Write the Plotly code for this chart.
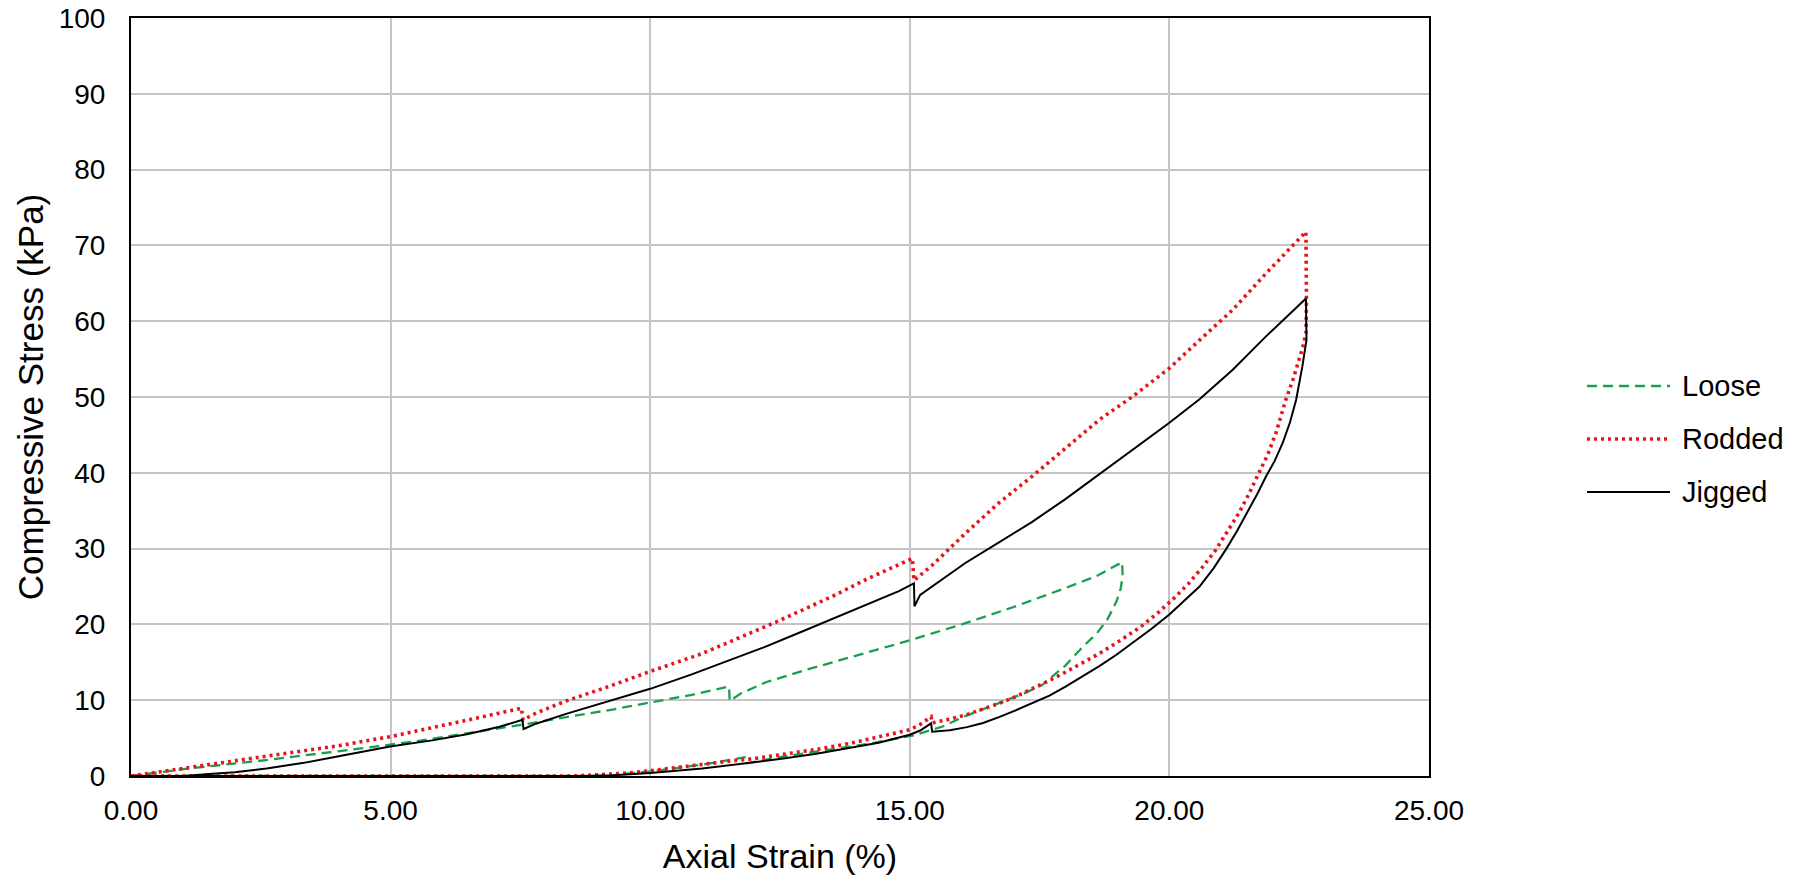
import plotly.graph_objects as go

# ---------------- data ----------------
loose_strain = [0.0, 1.0, 2.61, 3.7, 4.73, 5.6, 6.47, 7.1, 7.56, 8.5, 9.3, 10.0, 10.8, 11.52,
                11.53, 11.75, 12.24, 13.0, 14.0, 15.0, 16.0, 17.0, 18.0, 18.6, 19.09,
                19.10, 19.06, 18.99, 18.9, 18.8, 18.6, 18.34, 18.0, 17.8, 17.55, 17.2, 16.71,
                16.1, 15.62, 15.1, 14.17, 13.5, 12.5, 11.87, 11.86, 11.0, 10.0, 9.2, 8.8, 0.0]
loose_stress = [0.0, 0.9, 2.1, 3.0, 3.9, 4.7, 5.6, 6.3, 6.8, 7.9, 8.8, 9.7, 10.7, 11.8,
                9.9, 10.9, 12.4, 14.0, 15.9, 17.9, 20.0, 22.3, 24.8, 26.4, 28.2,
                26.3, 24.7, 23.2, 21.9, 20.6, 18.8, 17.1, 14.6, 13.4, 12.0, 10.9, 9.6,
                8.0, 6.5, 5.4, 4.2, 3.5, 2.5, 1.7, 2.5, 1.5, 0.6, 0.05, 0.0, 0.0]

rodded_strain = [0.0, 1.0, 2.6, 4.0, 5.0, 6.0, 6.5, 7.1, 7.52, 7.55, 7.8, 8.38, 9.2, 10.0, 10.94,
                 11.5, 12.42, 13.51, 14.15, 14.6, 15.05, 15.08, 15.43, 16.07, 16.71, 17.35, 17.99,
                 18.65, 19.28, 20.0, 20.58, 21.22, 21.86, 22.63,
                 22.64, 22.63, 22.57, 22.5, 22.38, 22.24, 22.05, 21.9, 21.72, 21.53, 21.34, 21.12,
                 20.89, 20.63, 20.37, 20.08, 19.79, 19.47, 19.06, 18.66, 18.3, 18.0, 17.69, 17.37,
                 17.05, 16.73, 16.41, 16.1, 15.77, 15.43, 15.41, 15.2, 15.0, 14.4, 13.85, 13.2,
                 12.6, 12.0, 11.58, 11.0, 10.0, 9.5, 9.0, 8.5, 0.0]
rodded_stress = [0.0, 1.0, 2.55, 4.0, 5.2, 6.6, 7.4, 8.3, 8.95, 7.4, 8.3, 9.9, 11.8, 13.8, 16.0,
                 17.6, 20.3, 23.7, 25.9, 27.3, 28.7, 25.8, 27.8, 32.0, 36.0, 39.5, 43.2,
                 47.0, 50.0, 53.8, 57.5, 61.5, 66.3, 71.8,
                 62.8, 58.4, 56.6, 54.9, 52.3, 49.6, 45.2, 42.5, 39.9, 37.2, 34.7, 32.2,
                 29.8, 27.5, 25.4, 23.4, 21.6, 19.8, 17.9, 16.2, 14.8, 13.7, 12.6, 11.5,
                 10.5, 9.6, 8.8, 8.1, 7.5, 7.0, 7.8, 6.8, 6.1, 5.1, 4.3, 3.5,
                 2.9, 2.3, 2.0, 1.5, 0.7, 0.35, 0.12, 0.0, 0.0]

jigged_strain = [0.0, 1.0, 1.5, 2.0, 2.61, 3.3, 4.0, 4.99, 5.8, 6.47, 7.1, 7.54, 7.56, 7.8, 8.38,
                 9.2, 10.0, 10.8, 11.58, 12.2, 12.87, 13.5, 14.15, 14.79, 15.08, 15.09, 15.2,
                 15.43, 15.75, 16.07, 16.71, 17.35, 17.99, 18.65, 19.28, 20.0, 20.58, 21.22,
                 21.86, 22.63,
                 22.64, 22.6, 22.56, 22.5, 22.44, 22.32, 22.18, 22.03, 21.86, 21.7, 21.53, 21.3,
                 21.08, 20.85, 20.58, 20.3, 20.0, 19.65, 19.3, 18.98, 18.65, 18.3, 18.0, 17.69,
                 17.37, 17.05, 16.73, 16.41, 16.1, 15.77, 15.43, 15.41, 15.2, 15.0, 14.4, 13.85,
                 13.2, 12.6, 12.0, 11.0, 10.0, 9.3, 8.7, 0.0]
jigged_stress = [0.0, 0.0, 0.25, 0.5, 1.0, 1.7, 2.6, 3.9, 4.7, 5.5, 6.5, 7.4, 6.2, 6.9, 8.2,
                 9.9, 11.5, 13.4, 15.4, 17.0, 18.9, 20.7, 22.6, 24.4, 25.4, 22.4, 23.9,
                 25.0, 26.6, 28.1, 30.8, 33.5, 36.5, 39.8, 43.0, 46.6, 49.7, 53.6,
                 58.0, 63.0,
                 57.5, 55.5, 54.0, 51.8, 49.6, 46.6, 43.9, 41.6, 39.5, 37.3, 35.1, 32.3,
                 29.8, 27.4, 25.0, 23.2, 21.3, 19.4, 17.6, 16.0, 14.5, 13.0, 11.8, 10.6,
                 9.6, 8.7, 7.8, 7.0, 6.45, 6.05, 5.85, 6.95, 6.0, 5.45, 4.4, 3.7,
                 2.95, 2.35, 1.8, 1.0, 0.4, 0.1, 0.0, 0.0]

series_names = ["Loose", "Rodded", "Jigged"]
x_ticks = [0, 5, 10, 15, 20, 25]
x_tick_labels = ["0.00", "5.00", "10.00", "15.00", "20.00", "25.00"]
y_ticks = [0, 10, 20, 30, 40, 50, 60, 70, 80, 90, 100]

# ---------------- styles ----------------
GREEN = "#17a04f"
RED = "#e8141c"
BLACK = "#000000"
FONT = "Liberation Sans, Arial, sans-serif"

styles = [
    dict(color=GREEN, width=2.3, dash="10px,6px"),
    dict(color=RED, width=3.6, dash="3px,4px"),
    dict(color=BLACK, width=2.0, dash="solid"),
]
xs = [loose_strain, rodded_strain, jigged_strain]
ys = [loose_stress, rodded_stress, jigged_stress]

fig = go.Figure()
for name, x, y, st in zip(series_names, xs, ys, styles):
    fig.add_trace(go.Scatter(x=x, y=y, mode="lines", name=name, line=st, showlegend=False))

W, H = 1804, 878
L, R, T, B = 131, 1429, 18, 776

fig.update_layout(
    width=W, height=H,
    margin=dict(l=L, r=W - R, t=T, b=H - B, autoexpand=False),
    paper_bgcolor="white", plot_bgcolor="white",
    font=dict(family=FONT, size=28, color="#000000"),
    showlegend=False,
)
fig.update_xaxes(
    range=[0, 25], tickvals=x_ticks, ticktext=x_tick_labels,
    showgrid=True, gridcolor="#c4c4c4", gridwidth=1.6,
    showline=True, linecolor="#000000", linewidth=2, mirror=True,
    zeroline=False, ticks="", ticklabelstandoff=8, layer="below traces",
    ticklabeloverflow="allow",
    tickfont=dict(size=28, family=FONT),
    title=dict(text="Axial Strain (%)", font=dict(size=34, family=FONT), standoff=20),
)
fig.update_yaxes(
    range=[0, 100], tickvals=y_ticks,
    showgrid=True, gridcolor="#c4c4c4", gridwidth=1.6,
    showline=True, linecolor="#000000", linewidth=2, mirror=True,
    zeroline=False, ticks="", ticklabelstandoff=18, layer="below traces",
    ticklabeloverflow="allow",
    tickfont=dict(size=28, family=FONT),
    title=dict(text="Compressive Stress (kPa)", font=dict(size=35, family=FONT), standoff=4),
)

# ---------------- legend (drawn manually to match long sample lines) ----------------
leg_y_px = [386, 439, 492]
for name, st, py in zip(series_names, styles, leg_y_px):
    yp = (B - py) / (B - T)
    x0 = (1587 - L) / (R - L)
    x1 = (1670 - L) / (R - L)
    fig.add_shape(type="line", xref="paper", yref="paper", x0=x0, x1=x1, y0=yp, y1=yp,
                  line=dict(color=st["color"], width=st["width"], dash=st["dash"]))
    fig.add_annotation(xref="paper", yref="paper", x=(1680 - L) / (R - L), y=yp,
                       text=name, showarrow=False, xanchor="left", yanchor="middle",
                       font=dict(size=29, family=FONT, color="#000000"))

# remove the default 8px page margin so the figure fills the window exactly
fig.write_html("out.html", config={"displayModeBar": False},
               post_script="document.body.style.margin='0';")
